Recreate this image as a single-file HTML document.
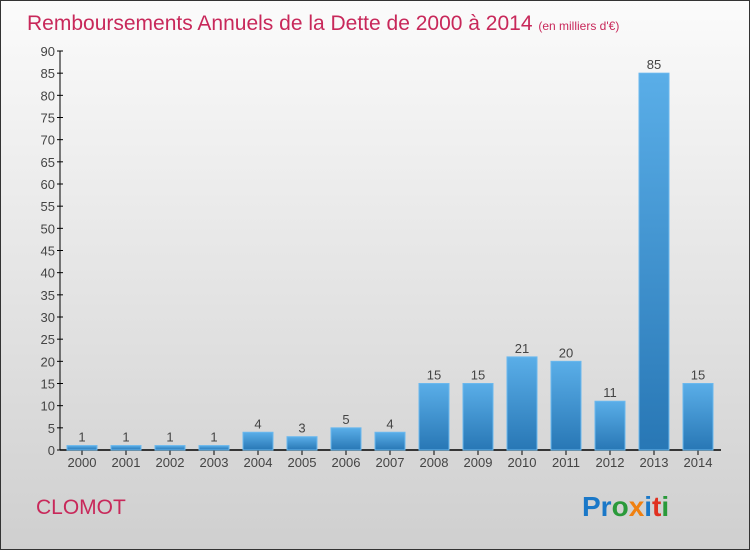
<!DOCTYPE html>
<html><head><meta charset="utf-8"><style>
body{margin:0;width:750px;height:550px;overflow:hidden;font-family:"Liberation Sans",sans-serif}
#root{position:absolute;left:0;top:0;width:748px;height:548px;border:1px solid #333;background:linear-gradient(#fbfbfb,#cfcfcf)}
</style></head><body>
<div id="root">
<svg width="750" height="550" style="position:absolute;left:-1px;top:-1px">
<defs><linearGradient id="bg" x1="0" y1="0" x2="0" y2="1"><stop offset="0" stop-color="#5aaee8"/><stop offset="1" stop-color="#2877b5"/></linearGradient></defs>
<text x="27" y="30" font-size="21" fill="#c8285a">Remboursements Annuels de la Dette de 2000 à 2014 <tspan font-size="12">(en milliers d'€)</tspan></text>
<g id="axes"></g><g id="bars"></g>
<text x="36" y="514" font-size="21" fill="#c8285a">CLOMOT</text>
<text x="582" y="516" font-size="28" font-weight="bold"><tspan fill="#1a78c8">Pr</tspan><tspan fill="#2a9a3a">o</tspan><tspan fill="#f08010">x</tspan><tspan fill="#1a78c8">i</tspan><tspan fill="#e03020">t</tspan><tspan fill="#2a9a3a">i</tspan></text>
</svg></div>
<script>
const categories=["2000","2001","2002","2003","2004","2005","2006","2007","2008","2009","2010","2011","2012","2013","2014"];
const values=[1,1,1,1,4,3,5,4,15,15,21,20,11,85,15];
const yTicks=[0,5,10,15,20,25,30,35,40,45,50,55,60,65,70,75,80,85,90];
const NS="http://www.w3.org/2000/svg";
const y=v=>450-v*399/90, x=i=>82+i*44;
function mk(t,a,p){const e=document.createElementNS(NS,t);for(const k in a)e.setAttribute(k,a[k]);p.appendChild(e);return e;}
const ax=document.getElementById('axes'),bs=document.getElementById('bars');
let l=mk('line',{x1:60,y1:y(90),x2:60,y2:450,stroke:'#000'},ax);


l=mk('line',{x1:60,y1:450,x2:721,y2:450,stroke:'#000','stroke-width':1.5},ax);


yTicks.forEach(v=>{mk('line',{x1:57,x2:63,y1:y(v),y2:y(v),stroke:'#000'},ax);
const t=mk('text',{x:55,y:y(v)+5,'text-anchor':'end','font-size':13,fill:'#444'},ax);t.textContent=v;

});
categories.forEach((c,i)=>{const v=values[i];
const r=mk('rect',{x:x(i)-15,y:y(v),width:30,height:450-y(v),fill:'url(#bg)',stroke:'#6ab8ee'},bs);


mk('line',{x1:x(i),x2:x(i),y1:450,y2:455,stroke:'#000'},ax);
const t=mk('text',{x:x(i),y:467,'text-anchor':'middle','font-size':13,fill:'#444'},ax);t.textContent=c;


const vl=mk('text',{x:x(i),y:y(v)-4,'text-anchor':'middle','font-size':13,fill:'#444'},bs);vl.textContent=v;

});
</script></body></html>
